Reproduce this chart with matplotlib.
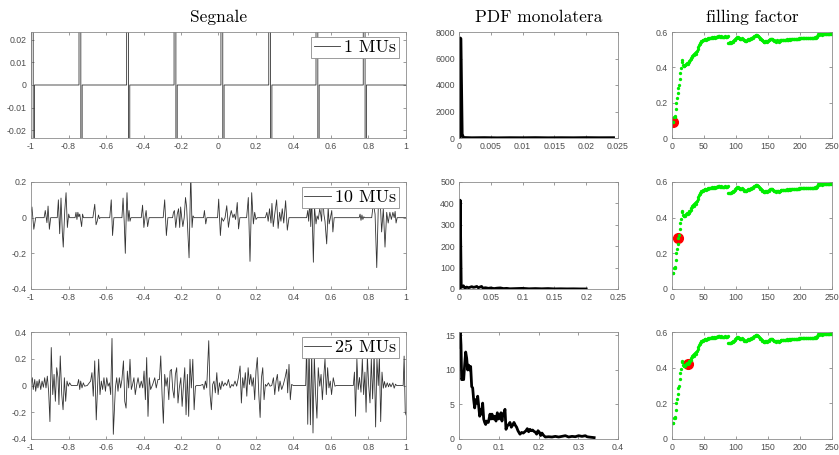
import numpy as np
import matplotlib.pyplot as plt

plt.rcParams['font.family'] = ['Liberation Sans', 'DejaVu Sans']

# --- segnale, 1 MU: istanti dei picchi + forma del picco
spike_t1 = [-0.998, -0.744, -0.490, -0.237, 0.013, 0.268, 0.520, 0.772]
spike_dt = [0.0, 0.0005, 0.0095, 0.010, 0.0163, 0.0168]
spike_v = [0.0, 2.0, 2.0, -2.0, -2.0, 0.0]

# --- segnale, 10 MUs (t, v)
sig10 = [(-1.0, 0.03), (-0.995, 0.06), (-0.985, -0.065), (-0.975, 0),
         (-0.93, 0), (-0.924, 0.04), (-0.915, -0.028), (-0.909, 0.065), (-0.902, -0.065), (-0.895, 0),
         (-0.86, 0), (-0.854, 0.1), (-0.847, -0.09), (-0.84, 0.11), (-0.833, -0.08), (-0.828, -0.165),
         (-0.82, 0.04), (-0.813, 0.14), (-0.806, -0.055), (-0.799, 0.02), (-0.794, 0),
         (-0.765, 0), (-0.76, 0.03), (-0.755, -0.01), (-0.75, 0.03), (-0.745, 0.005), (-0.74, 0.02),
         (-0.73, -0.05), (-0.725, 0.02), (-0.72, 0),
         (-0.67, 0), (-0.66, 0.075), (-0.653, -0.04), (-0.647, -0.02), (-0.64, 0.015), (-0.635, -0.005), (-0.63, 0),
         (-0.58, 0), (-0.572, 0.1), (-0.565, -0.1), (-0.558, 0),
         (-0.515, 0), (-0.509, 0.11), (-0.503, -0.02), (-0.497, -0.2), (-0.492, 0.02), (-0.488, 0.14),
         (-0.482, -0.02), (-0.477, 0.04), (-0.472, -0.02), (-0.467, 0),
         (-0.412, 0), (-0.405, 0.07), (-0.398, -0.055), (-0.392, 0.0), (-0.386, 0.04), (-0.378, -0.05), (-0.37, 0),
         (-0.295, 0), (-0.287, 0.1), (-0.278, -0.1), (-0.27, 0),
         (-0.245, 0), (-0.24, 0.03), (-0.235, 0.04), (-0.228, -0.055), (-0.22, 0.02), (-0.213, 0.05),
         (-0.207, -0.055), (-0.202, 0.06), (-0.196, 0), (-0.19, -0.05),
         (-0.183, 0), (-0.176, 0.113), (-0.17, 0.06), (-0.157, -0.225), (-0.148, 0.25), (-0.141, -0.055),
         (-0.136, 0.01), (-0.13, 0),
         (-0.08, 0), (-0.075, 0.04), (-0.068, -0.035), (-0.062, 0),
         (-0.005, 0), (0.001, 0.104), (0.01, -0.1), (0.017, 0), (0.026, -0.02), (0.035, 0), (0.044, 0.067),
         (0.053, -0.054), (0.06, 0), (0.068, 0.04), (0.077, 0), (0.084, 0.02), (0.091, -0.01), (0.1, 0.085),
         (0.107, -0.063), (0.114, 0),
         (0.15, 0), (0.159, 0.113), (0.168, -0.245), (0.177, 0.14), (0.186, -0.035), (0.193, 0.03), (0.2, -0.01), (0.207, 0),
         (0.25, 0), (0.258, 0.03), (0.265, -0.02), (0.272, 0.05), (0.28, -0.03), (0.285, 0.08), (0.292, -0.05),
         (0.3, 0.02), (0.31, 0.1), (0.318, -0.06), (0.326, 0.03), (0.333, -0.02), (0.34, 0.05), (0.348, -0.03),
         (0.358, 0.095), (0.367, -0.07), (0.376, 0),
         (0.47, 0), (0.476, 0.04), (0.481, -0.02), (0.487, 0.1), (0.492, -0.05), (0.497, 0.12), (0.506, -0.25),
         (0.512, 0.06), (0.52, -0.035), (0.526, 0.01), (0.532, -0.01), (0.54, 0.05), (0.545, 0.02), (0.55, -0.02),
         (0.555, 0.15), (0.562, 0.02), (0.568, -0.02), (0.577, -0.147), (0.585, 0.06), (0.59, -0.035), (0.597, 0),
         (0.604, 0.04), (0.61, -0.08), (0.617, 0),
         (0.75, 0), (0.755, 0.02), (0.76, -0.015), (0.765, 0.015), (0.77, -0.01), (0.775, 0.005), (0.78, 0),
         (0.817, 0), (0.826, 0.08), (0.835, 0.02), (0.844, -0.28), (0.853, 0.09), (0.861, 0.13), (0.87, -0.08),
         (0.879, 0.05), (0.888, -0.165), (0.897, 0.03), (0.905, -0.03), (0.914, 0.03), (0.922, -0.01),
         (0.93, 0.03), (0.937, 0), (0.942, 0.035), (0.947, -0.03), (0.953, 0),
         (1.0, 0)]

# --- segnale, 25 MUs (t, v)
sig25 = [(-1.0, 0.02), (-0.998, 0.033), (-0.993, 0.058), (-0.988, -0.03), (-0.98, 0.045), (-0.975, -0.043),
         (-0.968, 0.033), (-0.963, -0.018), (-0.956, 0.045), (-0.948, -0.03), (-0.941, 0.033), (-0.934, -0.013),
         (-0.927, 0.058), (-0.92, -0.018), (-0.913, 0.07), (-0.906, -0.043), (-0.899, -0.27), (-0.892, 0.284),
         (-0.884, -0.068), (-0.877, 0.083), (-0.87, -0.118), (-0.863, 0.133), (-0.856, 0.058), (-0.851, -0.143),
         (-0.844, 0.221), (-0.836, -0.068), (-0.829, -0.181), (-0.822, 0.058), (-0.815, -0.118), (-0.808, 0.033),
         (-0.801, -0.005), (-0.794, 0.02), (-0.785, 0),
         (-0.753, 0), (-0.746, 0.045), (-0.74, -0.03), (-0.735, 0.033), (-0.728, -0.018), (-0.721, 0.02),
         (-0.714, -0.005), (-0.7, 0),
         (-0.682, 0.033), (-0.675, 0.096), (-0.668, -0.08), (-0.66, 0.184), (-0.652, -0.257), (-0.639, 0.196),
         (-0.632, -0.068), (-0.625, 0.033), (-0.618, -0.03), (-0.611, 0.058), (-0.603, -0.043), (-0.596, 0.058),
         (-0.589, -0.005), (-0.582, 0.02), (-0.575, -0.068), (-0.568, 0.352), (-0.561, -0.365), (-0.55, -0.018),
         (-0.543, 0.058), (-0.536, -0.043), (-0.529, 0.058), (-0.522, -0.018), (-0.515, 0.045), (-0.507, 0.184),
         (-0.5, -0.118), (-0.493, -0.169), (-0.486, 0.108), (-0.479, -0.018), (-0.472, 0.196), (-0.465, -0.03),
         (-0.458, 0.008), (-0.451, 0.058), (-0.444, -0.068), (-0.436, 0.008), (-0.429, 0.058), (-0.42, -0.018),
         (-0.412, 0.033), (-0.404, -0.018), (-0.397, 0.108), (-0.39, -0.106), (-0.383, 0.209), (-0.376, -0.231),
         (-0.369, 0.058), (-0.362, -0.03), (-0.351, 0.008), (-0.34, 0.058), (-0.332, -0.018), (-0.323, 0.045),
         (-0.315, 0.045), (-0.308, 0.221), (-0.301, -0.068), (-0.294, -0.282), (-0.287, 0.083), (-0.28, -0.005),
         (-0.273, 0.058), (-0.265, -0.106), (-0.258, 0.108), (-0.251, 0.121), (-0.244, -0.03), (-0.237, -0.093),
         (-0.23, 0.083), (-0.223, 0.133), (-0.216, -0.131), (-0.209, -0.018), (-0.201, 0.058), (-0.194, -0.156),
         (-0.187, -0.005), (-0.18, 0.133), (-0.173, -0.219), (-0.166, 0.083), (-0.159, -0.231), (-0.152, 0.196),
         (-0.145, -0.018), (-0.137, 0.196), (-0.13, -0.181), (-0.123, -0.005), (-0.116, 0),
         (-0.098, 0), (-0.084, 0.008), (-0.077, -0.03), (-0.07, 0.033), (-0.063, -0.018), (-0.052, 0.335),
         (-0.045, -0.068), (-0.038, -0.181), (-0.031, 0.008), (-0.024, 0.033), (-0.017, -0.055), (-0.009, 0.096),
         (-0.002, -0.068), (0.005, 0.02), (0.012, -0.03), (0.019, 0.033), (0.026, -0.005), (0.035, 0.02),
         (0.044, 0), (0.053, 0.045), (0.062, -0.018), (0.071, 0.008), (0.079, -0.005), (0.088, 0.033),
         (0.097, -0.005), (0.106, 0.058), (0.115, 0.146), (0.122, -0.131), (0.129, 0.058), (0.136, -0.018),
         (0.143, 0.096), (0.151, -0.08), (0.158, 0.133), (0.165, 0.008), (0.172, 0.083), (0.179, -0.005),
         (0.186, 0.058), (0.193, -0.106), (0.2, 0.108), (0.207, 0.209), (0.215, -0.068), (0.222, -0.239),
         (0.229, 0.058), (0.236, 0.133), (0.243, -0.106), (0.25, 0.008), (0.257, -0.005), (0.266, 0.02),
         (0.275, -0.005), (0.284, 0), (0.293, 0.058), (0.3, -0.068), (0.307, 0.033), (0.314, 0.083),
         (0.321, -0.043), (0.328, 0.033), (0.337, -0.03), (0.346, 0.008), (0.355, 0.058), (0.364, 0.121),
         (0.369, -0.055), (0.376, 0.158), (0.383, -0.106), (0.39, 0.008), (0.399, 0),
         (0.465, 0), (0.47, 0.3), (0.476, -0.29), (0.483, 0.3), (0.49, -0.294), (0.497, 0.25), (0.504, -0.355),
         (0.511, 0.22), (0.518, -0.068), (0.525, -0.244), (0.532, 0.133), (0.54, -0.005), (0.547, 0.083),
         (0.554, -0.106), (0.561, 0.058), (0.568, 0.2), (0.575, -0.068), (0.582, 0.133), (0.589, -0.018),
         (0.596, 0.033), (0.603, -0.068), (0.612, 0.058), (0.621, -0.005), (0.628, 0),
         (0.719, 0), (0.725, 0.1), (0.731, -0.23), (0.738, 0.2), (0.745, -0.03), (0.752, 0.06), (0.76, -0.05),
         (0.767, 0.2), (0.774, -0.068), (0.781, 0.1), (0.787, -0.2), (0.794, 0.22), (0.801, 0.0), (0.808, -0.13),
         (0.815, 0.2), (0.822, -0.1), (0.83, 0.25), (0.838, -0.31), (0.845, 0.2), (0.852, 0.0), (0.858, 0.22),
         (0.865, -0.27), (0.872, 0.1), (0.879, -0.02), (0.885, 0.03), (0.892, -0.015), (0.9, 0.02),
         (0.907, -0.01), (0.913, 0.015), (0.92, -0.01), (0.93, 0.02), (0.937, -0.02), (0.944, 0.01), (0.95, 0),
         (0.985, 0), (0.99, 0.22), (0.996, -0.2), (1.0, -0.22)]

# --- PDF monolatera (ampiezza, densita')
pdf1_x = [0.0002, 0.0002, 0.0003, 0.0005, 0.0007, 0.002, 0.004, 0.006, 0.008, 0.01, 0.012, 0.014, 0.016, 0.018,
          0.02, 0.022, 0.0243]
pdf1_y = [0, 7550, 7500, 300, 40, 20, 30, 15, 25, 20, 30, 18, 25, 20, 30, 22, 25]

pdf10_x = [0.0018, 0.0018, 0.002, 0.0035, 0.005, 0.007, 0.0094, 0.012, 0.015, 0.0172, 0.02, 0.0225, 0.025, 0.028,
           0.0303, 0.0329, 0.0355, 0.038, 0.041, 0.0434, 0.046, 0.05, 0.055, 0.06, 0.065, 0.07, 0.075, 0.08, 0.09,
           0.1, 0.11, 0.12, 0.13, 0.14, 0.15, 0.16, 0.17, 0.18, 0.19, 0.2]
pdf10_y = [0, 415, 380, 12, 9, 15, 3, 9, 6, 8, 11, 8, 9, 12, 6, 9, 12, 3, 6, 5, 3, 5, 2, 4, 5, 2, 3, 1, 2,
           3, 1, 2, 1, 2, 0.5, 1, 0.5, 0.8, 0.3, 0.2]

pdf25_x = [0.0008, 0.0017, 0.0034, 0.005, 0.0067, 0.0092, 0.0117, 0.0142, 0.0168, 0.0193, 0.0218, 0.0243, 0.0268,
           0.0293, 0.0319, 0.0344, 0.0369, 0.0394, 0.0419, 0.0444, 0.047, 0.0495, 0.052, 0.0545, 0.057, 0.0595,
           0.0621, 0.0646, 0.0671, 0.0696, 0.0738, 0.078, 0.0805, 0.083, 0.0864, 0.0897, 0.0931, 0.0964, 0.0998,
           0.1031, 0.1056, 0.1081, 0.1106, 0.1132, 0.1157, 0.1182, 0.1215, 0.1249, 0.1282, 0.1316, 0.1349,
           0.1383, 0.1416, 0.145, 0.1483, 0.1534, 0.1576, 0.1618, 0.1685, 0.1718, 0.1752, 0.1785, 0.1819,
           0.1852, 0.1886, 0.1919, 0.1953, 0.1987, 0.202, 0.2054, 0.2087, 0.2121, 0.2171, 0.2255, 0.2339,
           0.2423, 0.2507, 0.259, 0.2675, 0.2758, 0.2842, 0.2926, 0.301, 0.3094, 0.3178, 0.322, 0.3262, 0.34]
pdf25_y = [13.3, 15.2, 15.5, 13.6, 8.6, 8.8, 8.6, 10.7, 12.6, 11.7, 10.0, 10.7, 10.0, 10.5, 7.6, 7.4, 5.7, 4.5,
           5.7, 5.2, 6.2, 4.8, 3.3, 4.3, 3.6, 5.2, 2.9, 2.4, 2.1, 2.6, 2.4, 3.6, 2.9, 3.6, 2.9, 3.3, 2.6, 3.8,
           2.9, 3.1, 3.8, 2.6, 3.6, 3.8, 4.3, 1.4, 1.9, 2.1, 2.4, 1.7, 2.0, 2.4, 2.0, 1.7, 1.2, 0.7, 0.95, 0.86,
           1.2, 1.5, 1.05, 1.4, 1.2, 1.3, 1.1, 1.0, 0.7, 1.2, 1.0, 0.5, 0.86, 0.57, 0.29, 0.33, 0.29, 0.38,
           0.29, 0.38, 0.48, 0.29, 0.38, 0.33, 0.48, 0.38, 0.48, 0.33, 0.29, 0.2]

# --- filling factor vs numero di MU (1..250)
ff = [0.088, 0.090, 0.120, 0.122, 0.118, 0.165, 0.200, 0.225, 0.255, 0.285,
      0.300, 0.335, 0.370, 0.395, 0.430, 0.440, 0.415, 0.408, 0.410, 0.412,
      0.415, 0.420, 0.418, 0.425, 0.420, 0.428, 0.435, 0.440, 0.445, 0.452,
      0.458, 0.465, 0.470, 0.468, 0.475, 0.482, 0.478, 0.488, 0.495, 0.505,
      0.515, 0.525, 0.530, 0.540, 0.545, 0.548, 0.550, 0.552, 0.555, 0.553,
      0.558, 0.560, 0.556, 0.560, 0.562, 0.565, 0.563, 0.566, 0.568, 0.565,
      0.566, 0.568, 0.570, 0.567, 0.569, 0.570, 0.568, 0.572, 0.570, 0.571,
      0.573, 0.575, 0.578, 0.576, 0.574, 0.572, 0.575, 0.573, 0.571, 0.570,
      0.572, 0.574, 0.575, 0.573, 0.572, 0.574, 0.575, 0.540, 0.538, 0.541,
      0.540, 0.538, 0.542, 0.545, 0.543, 0.548, 0.552, 0.556, 0.560, 0.565,
      0.568, 0.570, 0.572, 0.568, 0.565, 0.562, 0.560, 0.562, 0.565, 0.563,
      0.558, 0.555, 0.552, 0.550, 0.548, 0.550, 0.553, 0.556, 0.558, 0.557,
      0.560, 0.562, 0.565, 0.563, 0.566, 0.568, 0.572, 0.575, 0.578, 0.580,
      0.582, 0.585, 0.584, 0.580, 0.575, 0.570, 0.566, 0.562, 0.558, 0.555,
      0.552, 0.548, 0.545, 0.543, 0.545, 0.548, 0.550, 0.548, 0.546, 0.548,
      0.552, 0.556, 0.560, 0.562, 0.560, 0.562, 0.558, 0.555, 0.552, 0.550,
      0.548, 0.545, 0.548, 0.552, 0.550, 0.548, 0.546, 0.548, 0.552, 0.554,
      0.555, 0.553, 0.555, 0.556, 0.554, 0.556, 0.557, 0.555, 0.556, 0.558,
      0.557, 0.556, 0.558, 0.559, 0.557, 0.558, 0.560, 0.559, 0.560, 0.561,
      0.560, 0.562, 0.561, 0.560, 0.562, 0.563, 0.562, 0.564, 0.563, 0.565,
      0.564, 0.566, 0.565, 0.567, 0.566, 0.565, 0.567, 0.566, 0.568, 0.567,
      0.566, 0.565, 0.567, 0.566, 0.568, 0.567, 0.565, 0.566, 0.568, 0.567,
      0.566, 0.565, 0.567, 0.570, 0.568, 0.572, 0.580, 0.586, 0.588, 0.585,
      0.587, 0.588, 0.586, 0.587, 0.585, 0.586, 0.588, 0.587, 0.586, 0.588,
      0.589, 0.587, 0.588, 0.590, 0.589, 0.588, 0.590, 0.592, 0.591, 0.588]
n_mu = [1, 10, 25]
legende = ['1 MUs', '10 MUs', '25 MUs']

# tick
xt_sig = [-1, -0.8, -0.6, -0.4, -0.2, 0, 0.2, 0.4, 0.6, 0.8, 1]
xl_sig = ['-1', '-0.8', '-0.6', '-0.4', '-0.2', '0', '0.2', '0.4', '0.6', '0.8', '1']
yt_sig = [[-0.02, -0.01, 0, 0.01, 0.02], [-0.4, -0.2, 0, 0.2], [-0.4, -0.2, 0, 0.2, 0.4]]
yl_sig = [['-0.02', '-0.01', '0', '0.01', '0.02'], ['-0.4', '-0.2', '0', '0.2'], ['-0.4', '-0.2', '0', '0.2', '0.4']]
ylim_sig = [(-0.0235, 0.0235), (-0.4, 0.2), (-0.4, 0.4)]

xt_pdf = [[0, 0.005, 0.01, 0.015, 0.02, 0.025], [0, 0.05, 0.1, 0.15, 0.2, 0.25], [0, 0.1, 0.2, 0.3, 0.4]]
xl_pdf = [['0', '0.005', '0.01', '0.015', '0.02', '0.025'], ['0', '0.05', '0.1', '0.15', '0.2', '0.25'],
          ['0', '0.1', '0.2', '0.3', '0.4']]
yt_pdf = [[0, 2000, 4000, 6000, 8000], [0, 100, 200, 300, 400, 500], [0, 5, 10, 15]]
ylim_pdf = [8000, 500, 15.5]

xt_ff = [0, 50, 100, 150, 200, 250]
yt_ff = [0, 0.2, 0.4, 0.6]
yl_ff = ['0', '0.2', '0.4', '0.6']


def stile(ax):
    ax.tick_params(direction='in', length=2.5, width=0.5, top=True, right=True,
                   labelsize=6.3, labelcolor='0.3', color='0.45', pad=3)
    for s in ax.spines.values():
        s.set_color('0.55')
        s.set_linewidth(0.6)


# segnale 1 MU costruito dai picchi letti
t1 = [-1.0]
v1 = [0.0]
for ts in spike_t1:
    for d, v in zip(spike_dt, spike_v):
        t1.append(ts + d)
        v1.append(v)
t1.append(1.0)
v1.append(0.0)
t10, v10 = np.array(sig10).T
t25, v25 = np.array(sig25).T
segnali = [(t1, v1), (t10, v10), (t25, v25)]
pdfs = [(pdf1_x, pdf1_y), (pdf10_x, pdf10_y), (pdf25_x, pdf25_y)]

W, H = 839, 455
fig = plt.figure(figsize=(W / 100, H / 100), dpi=100)
righe = [(32, 138), (182, 289), (332, 439)]
N = np.arange(1, len(ff) + 1)

for i in range(3):
    top, bot = righe[i]
    y0 = 1 - bot / H
    h = (bot - top) / H

    # colonna segnale
    ax = fig.add_axes([31 / W, y0, 375 / W, h])
    ln, = ax.plot(segnali[i][0], segnali[i][1], color='0.2', lw=0.6)
    ax.set_xlim(-1, 1)
    ax.set_ylim(*ylim_sig[i])
    ax.set_xticks(xt_sig)
    ax.set_xticklabels(xl_sig)
    ax.set_yticks(yt_sig[i])
    ax.set_yticklabels(yl_sig[i])
    stile(ax)
    leg = ax.legend([ln], [legende[i]], loc='upper right', bbox_to_anchor=(1 - 7 / 375, 1 - 5 / 106),
                    borderaxespad=0, prop={'family': 'cmr10', 'size': 13}, handlelength=1.45,
                    handletextpad=0.25, borderpad=0.15, fancybox=False, framealpha=1, edgecolor='0.55')
    leg.get_frame().set_linewidth(0.6)
    if i == 0:
        ax.set_title('Segnale', fontfamily='cmr10', fontsize=12.5, pad=7.5)

    # colonna PDF
    ax = fig.add_axes([459 / W, y0, 159 / W, h])
    ax.plot(pdfs[i][0], pdfs[i][1], color='k', lw=2)
    ax.set_xlim(xt_pdf[i][0], xt_pdf[i][-1])
    ax.set_ylim(0, ylim_pdf[i])
    ax.set_xticks(xt_pdf[i])
    ax.set_xticklabels(xl_pdf[i])
    ax.set_yticks(yt_pdf[i])
    ax.set_yticklabels([str(v) for v in yt_pdf[i]])
    stile(ax)
    if i == 0:
        ax.set_title('PDF monolatera', fontfamily='cmr10', fontsize=12.5, pad=7.5)

    # colonna filling factor
    ax = fig.add_axes([672 / W, y0, 160 / W, h])
    ax.plot(n_mu[i], ff[n_mu[i] - 1], 'o', color='red', ms=7, mec='red')
    ax.plot(N, ff, 'o', color='#00ee00', ms=2.4, mew=0)
    ax.set_xlim(0, 250)
    ax.set_ylim(0, 0.6)
    ax.set_xticks(xt_ff)
    ax.set_xticklabels([str(v) for v in xt_ff])
    ax.set_yticks(yt_ff)
    ax.set_yticklabels(yl_ff)
    stile(ax)
    if i == 0:
        ax.set_title('filling factor', fontfamily='cmr10', fontsize=12.5, pad=7.5)

fig.savefig('out.png', dpi=100)
